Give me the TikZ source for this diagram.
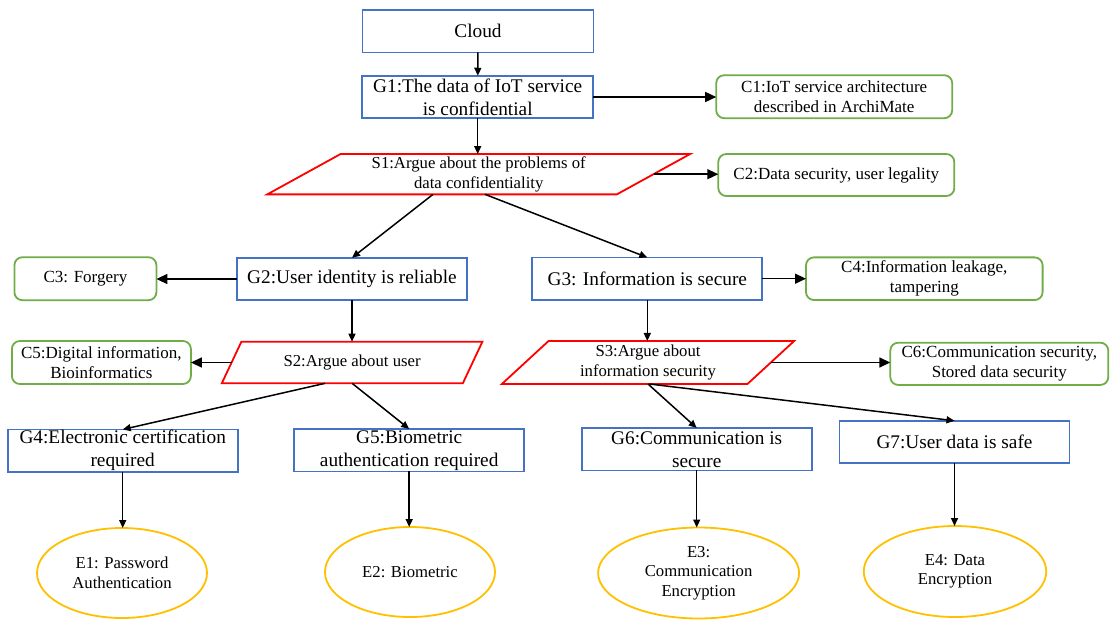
\documentclass[tikz,border=0pt]{standalone}
\usepackage{fontspec}
\setmainfont{Liberation Serif}
\usetikzlibrary{shapes.geometric,arrows.meta}
\definecolor{goalblue}{HTML}{4472C4}
\definecolor{ctxgreen}{HTML}{70AD47}
\definecolor{evgold}{HTML}{FFC000}
\definecolor{stratred}{HTML}{FF0000}
\tikzset{
  base/.style={align=center, inner sep=0pt, outer sep=0pt, line width=1.8pt},
  goal/.style={base, rectangle, draw=goalblue, minimum width=230, minimum height=42.5,
    font=\fontsize{19.3}{23}\selectfont},
  ctx/.style={base, rectangle, rounded corners=8pt, draw=ctxgreen,
    font=\fontsize{17}{20}\selectfont},
  evid/.style={base, ellipse, draw=evgold, font=\fontsize{16.7}{19.5}\selectfont},
  strat/.style={base, trapezium, trapezium stretches body, draw=stratred,
    trapezium left angle=#1, trapezium right angle={180-#1},
    font=\fontsize{16.7}{20}\selectfont},
  arr/.style={-{Triangle[length=8pt,width=7pt]}, line width=1.5pt},
  bigarr/.style={-{Triangle[length=11pt,width=10pt]}, line width=1.5pt},
}
\begin{document}
\begin{tikzpicture}[x=1pt,y=-1pt]
\useasboundingbox (0,0) rectangle (1110,621);

% goals
\node[goal, minimum width=231] (cloud) at (478,31.2) {Cloud};
\node[goal, minimum width=231] (g1) at (477.7,97) {G1:The data of IoT service\\is confidential};
\node[goal] (g2) at (352,279) {G2:User identity is reliable};
\node[goal] (g3) at (647.3,278.7) {G3: Information is secure};
\node[goal] (g4) at (122.7,450.7) {G4:Electronic certification\\required};
\node[goal] (g5) at (409.2,450.2) {G5:Biometric\\authentication required};
\node[goal] (g6) at (696.7,449.2) {G6:Communication is\\secure};
\node[goal] (g7) at (954.5,442) {G7:User data is safe};

% contexts
\node[ctx, minimum width=236, minimum height=43] (c1) at (834.2,96.7) {C1:IoT service architecture\\described in ArchiMate};
\node[ctx, minimum width=236, minimum height=42] (c2) at (836.3,175) {C2:Data security, user legality};
\node[ctx, minimum width=142, minimum height=43] (c3) at (85.4,278.7) {C3: Forgery};
\node[ctx, minimum width=236.6, minimum height=42.7] (c4) at (924.3,278.7) {C4:Information leakage,\\tampering};
\node[ctx, minimum width=179, minimum height=43] (c5) at (101.4,362.5) {C5:Digital information,\\Bioinformatics};
\node[ctx, minimum width=218, minimum height=42.3] (c6) at (999.3,363.8) {C6:Communication security,\\Stored data security};

% strategies
\node[strat=25.8, minimum width=422.7, minimum height=40.3] (s1) at (478.7,174.2) {S1:Argue about the problems of\\data confidentiality};
\node[strat=37.8, minimum width=260.6, minimum height=41.6] (s2) at (352.1,362.5) {S2:Argue about user};
\node[strat=37, minimum width=292.3, minimum height=43] (s3) at (648,362.5) {S3:Argue about\\information security};

% evidence
\node[evid, minimum width=170, minimum height=90] (e1) at (122,573) {E1: Password\\Authentication};
\node[evid, minimum width=170, minimum height=90] (e2) at (410,572) {E2: Biometric};
\node[evid, minimum width=201, minimum height=91] (e3) at (698.6,573) {E3:\\Communication\\Encryption};
\node[evid, minimum width=182.5, minimum height=91] (e4) at (955,571.5) {E4: Data\\Encryption};

% connectors
\draw[arr] (cloud) -- (g1);
\draw[bigarr] (g1.east) -- (g1.east -| c1.west);
\draw[arr] (g1.south) -- (g1.south |- s1.north);
\draw[bigarr] (s1.east) -- (s1.east -| c2.west);
\draw[arr] ([xshift=-45.7]s1.south) -- (g2.north);
\draw[arr] ([xshift=6.3]s1.south) -- (g3.north);
\draw[bigarr] (g2.west) -- (g2.west -| c3.east);
\draw[bigarr] (g3.east) -- (g3.east -| c4.west);
\draw[arr] (g2.south) -- (g2.south |- s2.north);
\draw[arr] (g3.south) -- (g3.south |- s3.north);
\draw[bigarr] (s2.west) -- (s2.west -| c5.east);
\draw[bigarr] (s3.east) -- (s3.east -| c6.west);
\draw[arr] ([xshift=-27]s2.south) -- (g4.north);
\draw[arr] (s2.south) -- (g5.north);
\draw[arr] (s3.south) -- (g6.north);
\draw[arr] ([xshift=1.5]s3.south) -- (g7.north);
\draw[arr] (g4.south) -- (g4.south |- e1.north);
\draw[arr] (g5.south) -- (g5.south |- e2.north);
\draw[arr] (g6.south) -- (g6.south |- e3.north);
\draw[arr] (g7.south) -- (g7.south |- e4.north);
\end{tikzpicture}
\end{document}
